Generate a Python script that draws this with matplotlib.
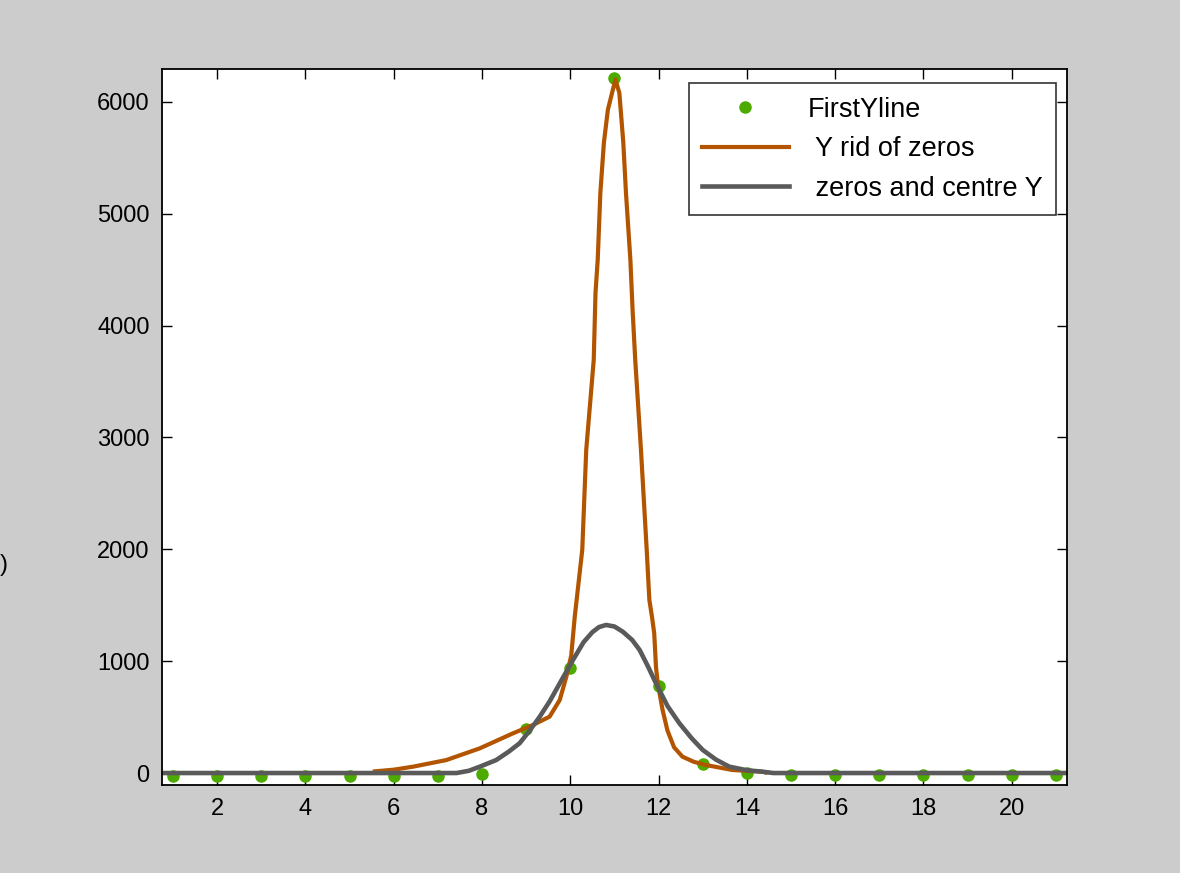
import numpy as np
import matplotlib
matplotlib.use("Agg")
import matplotlib.pyplot as plt

plt.rcParams["font.family"] = ["Liberation Sans", "DejaVu Sans"]

# green sample points
first_x = list(range(1, 22))
first_y = [-25, -25, -25, -25, -25, -25, -25, -5, 390, 940, 6210, 778, 80, 0,
           -20, -20, -20, -20, -20, -20, -20]

# orange curve
rid_x = [5.57, 6.0, 6.44, 7.19, 7.95, 8.70, 9.15, 9.53, 9.76, 9.91, 10.02, 10.10,
         10.27, 10.36, 10.53, 10.57, 10.62, 10.68, 10.76, 10.85, 11.02, 11.11,
         11.20, 11.26, 11.36, 11.41, 11.47, 11.60, 11.73, 11.79, 11.85, 11.90,
         11.94, 11.98, 12.09, 12.2, 12.35, 12.54, 12.8, 13.07, 13.67, 14.35, 14.42]
rid_y = [15, 30, 57, 116, 221, 355, 429, 504, 653, 862, 1050, 1398,
         1995, 2889, 3694, 4293, 4589, 5188, 5635, 5930, 6200, 6082,
         5635, 5188, 4589, 4141, 3694, 2889, 1995, 1547, 1395, 1250,
         948, 802, 563, 380, 230, 146, 100, 72, 27, 12, 5]

# grey curve
centre_x = [0.75, 7.42, 7.7, 7.95, 8.32, 8.6, 8.85, 9.08, 9.3, 9.53, 9.8, 10.06,
            10.3, 10.5, 10.65, 10.81, 11.0, 11.19, 11.4, 11.57, 11.75, 11.94,
            12.2, 12.47, 12.75, 13.0, 13.3, 13.6, 14.0, 14.35, 14.6, 21.25]
centre_y = [0, 0, 20, 57, 116, 190, 266, 380, 500, 640, 830, 1011,
            1170, 1260, 1305, 1324, 1310, 1263, 1190, 1100, 960, 802,
            600, 445, 310, 206, 120, 57, 25, 12, 0, 0]

fig = plt.figure(figsize=(11.8, 8.73), dpi=100, facecolor="#cccccc")
ax = fig.add_axes([0.1373, 0.1008, 0.7669, 0.8202])

ax.plot(first_x, first_y, "o", color="#4dab00", markersize=8, label="FirstYline")
ax.plot(rid_x, rid_y, color="#b35500", linewidth=3, label=" Y rid of zeros")
ax.plot(centre_x, centre_y, color="#5a5a5a", linewidth=3.3, label=" zeros and centre Y")

ax.set_xlim(0.75, 21.25)
ax.set_ylim(-107, 6295)
ax.set_xticks(range(2, 21, 2))
ax.set_yticks(range(0, 6001, 1000))
ax.tick_params(direction="in", top=True, right=True, length=7, width=1,
               labelsize=17, pad=9)
for s in ax.spines.values():
    s.set_linewidth(1.3)

leg = ax.legend(loc="upper right", bbox_to_anchor=(0.9878, 0.9804), fontsize=19.5,
                frameon=True, fancybox=False, edgecolor="black", handlelength=3.2,
                borderpad=0.5, labelspacing=0.5, borderaxespad=0,
                handletextpad=0.7)
leg.get_frame().set_linewidth(1.2)

fig.text(0.0, 1 - 565 / 873, ")", ha="left", va="center", fontsize=17)

fig.savefig("out.png", dpi=100, facecolor=fig.get_facecolor())
